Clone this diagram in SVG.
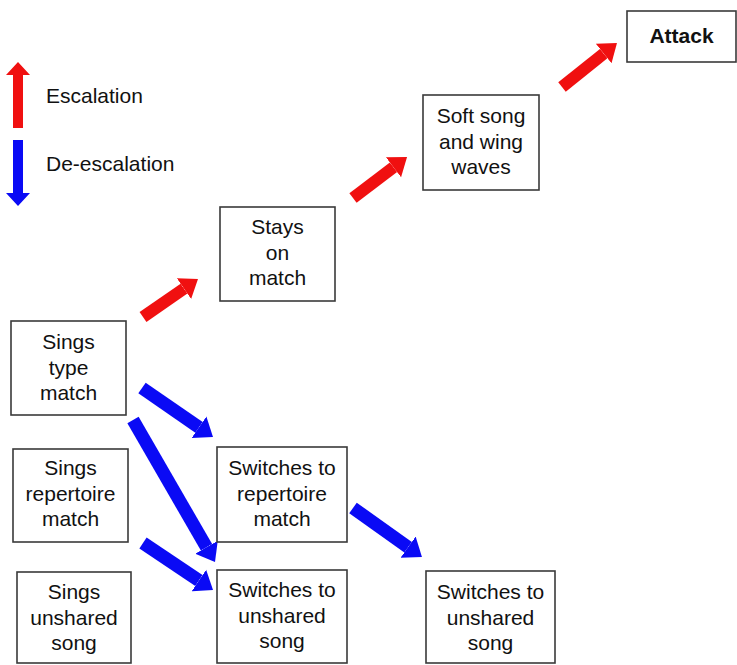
<svg xmlns="http://www.w3.org/2000/svg" width="737" height="665" viewBox="0 0 737 665">
<style>
.box{fill:#fff;stroke:#3a3a3a;stroke-width:1.6}
.t{font-family:"Liberation Sans",Arial,sans-serif;font-size:21px;fill:#111;text-anchor:middle}
.b{font-weight:bold}
.lg{font-family:"Liberation Sans",Arial,sans-serif;font-size:21px;fill:#111}
.red{stroke:#f01010;stroke-width:12;fill:none}
.blue{stroke:#0a0af5;stroke-width:13;fill:none}
</style>
<defs>
<marker id="hr" markerUnits="userSpaceOnUse" viewBox="0 -14 19 28" refX="0" refY="0" markerWidth="19" markerHeight="28" orient="auto">
<path d="M0,-12.5 L17,0 L0,12.5 Z" fill="#f01010"/>
</marker>
<marker id="hb" markerUnits="userSpaceOnUse" viewBox="0 -14 19 28" refX="0" refY="0" markerWidth="19" markerHeight="28" orient="auto">
<path d="M0,-13 L17,0 L0,13 Z" fill="#0a0af5"/>
</marker>
</defs>
<rect width="737" height="665" fill="#fff"/>
<g id="legend">
<polygon points="13,128 23,128 23,75 30,75 18,62 6,75 13,75" fill="#f01010"/>
<text class="lg" x="46" y="103">Escalation</text>
<polygon points="13,140 23,140 23,193 30,193 18,206 6,193 13,193" fill="#0a0af5"/>
<text class="lg" x="46" y="171">De-escalation</text>
</g>
<g id="connectors">
<line class="red" x1="143" y1="317" x2="184" y2="288.6" marker-end="url(#hr)"/>
<line class="red" x1="353" y1="198" x2="393.5" y2="167.3" marker-end="url(#hr)"/>
<line class="red" x1="562" y1="87" x2="603.7" y2="53.6" marker-end="url(#hr)"/>
<line class="blue" x1="142" y1="388" x2="199" y2="427.3" marker-end="url(#hb)"/>
<line class="blue" x1="133" y1="420" x2="206.5" y2="547.3" marker-end="url(#hb)"/>
<line class="blue" x1="143" y1="543" x2="198.9" y2="580.5" marker-end="url(#hb)"/>
<line class="blue" x1="353" y1="508" x2="408.1" y2="547.2" marker-end="url(#hb)"/>
</g>
<g id="attack">
<rect class="box" x="627" y="11" width="109" height="51"/>
<text class="t b" x="681.5" y="43">Attack</text>
</g>
<g id="softsong">
<rect class="box" x="423" y="95" width="116" height="95"/>
<text class="t" x="481" y="123">Soft song<tspan x="481" dy="25.5">and wing</tspan><tspan x="481" dy="25.5">waves</tspan></text>
</g>
<g id="stays">
<rect class="box" x="220" y="207" width="115" height="94"/>
<text class="t" x="277.5" y="234">Stays<tspan x="277.5" dy="25.5">on</tspan><tspan x="277.5" dy="25.5">match</tspan></text>
</g>
<g id="singstype">
<rect class="box" x="11" y="321" width="115" height="94"/>
<text class="t" x="68.5" y="349">Sings<tspan x="68.5" dy="25.5">type</tspan><tspan x="68.5" dy="25.5">match</tspan></text>
</g>
<g id="singsrep">
<rect class="box" x="13" y="449" width="115" height="93"/>
<text class="t" x="70.5" y="475">Sings<tspan x="70.5" dy="25.5">repertoire</tspan><tspan x="70.5" dy="25.5">match</tspan></text>
</g>
<g id="singsunshared">
<rect class="box" x="17" y="572" width="114" height="91"/>
<text class="t" x="74" y="599">Sings<tspan x="74" dy="25.5">unshared</tspan><tspan x="74" dy="25.5">song</tspan></text>
</g>
<g id="switchrep">
<rect class="box" x="217" y="447" width="130" height="95"/>
<text class="t" x="282" y="475">Switches to<tspan x="282" dy="25.5">repertoire</tspan><tspan x="282" dy="25.5">match</tspan></text>
</g>
<g id="switchunshared1">
<rect class="box" x="217" y="570" width="130" height="93"/>
<text class="t" x="282" y="597">Switches to<tspan x="282" dy="25.5">unshared</tspan><tspan x="282" dy="25.5">song</tspan></text>
</g>
<g id="switchunshared2">
<rect class="box" x="426" y="571" width="129" height="92"/>
<text class="t" x="490.5" y="599">Switches to<tspan x="490.5" dy="25.5">unshared</tspan><tspan x="490.5" dy="25.5">song</tspan></text>
</g>
</svg>
